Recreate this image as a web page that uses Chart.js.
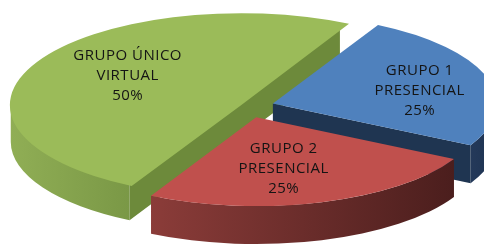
<!DOCTYPE html>
<html>
<head>
<meta charset="utf-8">
<script src="https://cdn.jsdelivr.net/npm/chart.js@4.4.1/dist/chart.umd.min.js"></script>
<style>
	html, body { margin: 0; padding: 0; background: #fff; }
	#wrap { width: 484px; height: 246px; overflow: hidden; }
</style>
</head>
<body>
<div id="wrap"><canvas id="pie" width="484" height="246"></canvas></div>
<script>
// data
const groupNames = ['GRUPO 1', 'GRUPO 2', 'GRUPO ÚNICO'];
const modalities = ['PRESENCIAL', 'PRESENCIAL', 'VIRTUAL'];
const shares = [25, 25, 50];

// look
const topColors = ['#4f81bd', '#c0504d', '#9bbb59'];
const wallColors = [['#24395a', '#1d3250'], ['#8b3c39', '#4b1e1d'], ['#90ae55', '#7a9846']];
const faceColors = ['#1f3551', '#5a2423', '#6d8a3b'];
const explode = [104, 112, 30];
const labelRadius = [0.67, 0.59, 0.57];
const LABEL_TURN = 5 * Math.PI / 180;
const SQUASH = 0.397;
const DEPTH = 38;

function sliceTip(arc) {
	const off = (arc.options.offset || 0) / 4;
	const circ = arc.endAngle - arc.startAngle;
	const fix = 1 - Math.sin(Math.min(Math.PI, circ));
	const d = off * (1 + fix);
	const mid = (arc.startAngle + arc.endAngle) / 2;
	return { x: arc.x + Math.cos(mid) * d, y: arc.y + Math.sin(mid) * d, mid };
}

function squash(ctx, cy) {
	ctx.translate(0, cy);
	ctx.scale(1, SQUASH);
	ctx.translate(0, -cy);
}

function drawWall(ctx, arc, i) {
	const tip = sliceTip(arc);
	const r = arc.outerRadius;
	const dd = DEPTH / SQUASH;
	const s = arc.startAngle;
	const e = arc.endAngle;
	// curved outer wall, only the part facing the viewer
	for (let n = -1; n <= 1; n++) {
		const a = Math.max(s, 2 * Math.PI * n);
		const b = Math.min(e, 2 * Math.PI * n + Math.PI);
		if (a >= b) continue;
		const xl = tip.x + r * Math.cos(b);
		const xr = tip.x + r * Math.cos(a);
		const g = ctx.createLinearGradient(xl, 0, xr, 0);
		g.addColorStop(0, wallColors[i][0]);
		g.addColorStop(1, wallColors[i][1]);
		ctx.beginPath();
		ctx.arc(tip.x, tip.y, r, a, b);
		ctx.arc(tip.x, tip.y + dd, r, b, a, true);
		ctx.closePath();
		ctx.fillStyle = g;
		ctx.fill();
	}
	// cut faces turned toward the viewer, one path so no seam at the tip
	const edges = [];
	if (Math.cos(s) < 0) edges.push(s);
	if (Math.cos(e) > 0) edges.push(e);
	if (!edges.length) return;
	ctx.beginPath();
	edges.forEach((t) => {
		const ex = tip.x + r * Math.cos(t);
		const ey = tip.y + r * Math.sin(t);
		ctx.moveTo(tip.x, tip.y);
		ctx.lineTo(ex, ey);
		ctx.lineTo(ex, ey + dd);
		ctx.lineTo(tip.x, tip.y + dd);
		ctx.closePath();
	});
	ctx.fillStyle = faceColors[i];
	ctx.fill();
}

const pie3d = {
	id: 'pie3d',
	beforeDatasetsDraw(chart) {
		const ctx = chart.ctx;
		const arcs = chart.getDatasetMeta(0).data;
		const cy = arcs[0].y;
		const order = arcs.map((a, i) => i)
			.sort((p, q) => Math.sin(sliceTip(arcs[p]).mid) - Math.sin(sliceTip(arcs[q]).mid));
		ctx.save();
		squash(ctx, cy);
		order.forEach((i) => drawWall(ctx, arcs[i], i));
		ctx.restore();
		ctx.save();
		squash(ctx, cy);
	},
	afterDatasetsDraw(chart) {
		const ctx = chart.ctx;
		ctx.restore();
		const arcs = chart.getDatasetMeta(0).data;
		const total = shares.reduce((a, b) => a + b, 0);
		ctx.save();
		ctx.fillStyle = '#141414';
		ctx.font = '15px "Open Sans"';
		ctx.letterSpacing = '0.5px';
		ctx.textAlign = 'center';
		ctx.textBaseline = 'middle';
		arcs.forEach((arc, i) => {
			const tip = sliceTip(arc);
			const rr = arc.outerRadius * labelRadius[i];
			const ang = tip.mid + LABEL_TURN;
			const x = tip.x + Math.cos(ang) * rr;
			const yu = tip.y + Math.sin(ang) * rr;
			const y = arc.y + (yu - arc.y) * SQUASH;
			const pct = Math.round(shares[i] / total * 100) + '%';
			ctx.fillText(groupNames[i], x, y - 20);
			ctx.fillText(modalities[i], x, y);
			ctx.fillText(pct, x, y + 20);
		});
		ctx.restore();
	},
};

new Chart(document.getElementById('pie'), {
	type: 'pie',
	data: {
		labels: groupNames.map((g, i) => g + ' ' + modalities[i]),
		datasets: [{
			data: shares,
			backgroundColor: topColors,
			borderWidth: 0,
			offset: explode,
			radius: 224,
			clip: false,
		}],
	},
	options: {
		responsive: false,
		devicePixelRatio: 1,
		animation: false,
		rotation: 28,
		layout: { padding: { left: 12, right: 0, top: 0, bottom: 33 } },
		plugins: { legend: { display: false }, tooltip: { enabled: false } },
	},
	plugins: [pie3d],
});
</script>
</body>
</html>
